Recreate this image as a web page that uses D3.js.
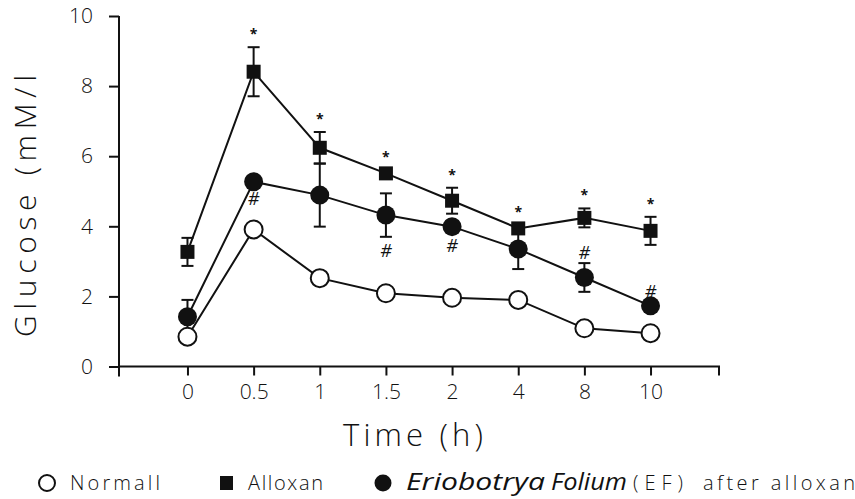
<!DOCTYPE html>
<html>
<head>
<meta charset="utf-8">
<script src="https://cdn.jsdelivr.net/npm/d3@7/dist/d3.min.js"></script>
<style>
  body { margin: 0; background: #fff; }
  svg { display: block; }
  text { font-family: "Open Sans", "Liberation Sans", sans-serif; fill: #111; }
</style>
</head>
<body>
<svg id="chart" width="855" height="499"></svg>
<script>
// time points (categorical axis)
const times = ["0", "0.5", "1", "1.5", "2", "4", "8", "10"]
const yTicks = [0, 2, 4, 6, 8, 10]

// glucose mM/l
const normal = [0.85, 3.91, 2.52, 2.09, 1.96, 1.90, 1.09, 0.95]
const normalErr = [0.15, 0.1, 0.1, 0.1, 0.1, 0.1, 0.1, 0.1]
const alloxan = [3.27, 8.41, 6.24, 5.51, 4.73, 3.94, 4.24, 3.87]
const alloxanErr = [0.4, 0.7, 0.45, 0.1, 0.37, 0.1, 0.27, 0.4]
const ef = [1.42, 5.27, 4.89, 4.32, 3.99, 3.35, 2.54, 1.73]
const efErr = [0.48, 0.1, 0.9, 0.62, 0.15, 0.57, 0.41, 0.1]

// significance marks: * alloxan vs normal, # EF vs alloxan (b = below, a = above)
const starMarks = ["", "*", "*", "*", "*", "*", "*", "*"]
const hashMarks = ["", "b", "", "b", "b", "", "a", "a"]

const svg = d3.select("#chart")
const pLeft = 119, pRight = 719, pTop = 16, pBottom = 366.5

const x = d3.scalePoint().domain(times).range([pLeft, pRight]).padding(1.035)
const y = d3.scaleLinear().domain([0, 10]).range([pBottom, pTop])

// axes
const xAxis = d3.axisBottom(x).tickSize(9).tickSizeOuter(0)
const xg = svg.append("g").attr("transform", `translate(0,${pBottom})`).call(xAxis)
xg.select(".domain").remove()
svg.append("path")
  .attr("d", `M${pLeft},${pBottom}H${pRight}v9`)
  .attr("fill", "none").attr("stroke", "#111").attr("stroke-width", 2)
xg.selectAll(".tick line").attr("stroke", "#111").attr("stroke-width", 2)
xg.selectAll(".tick text").attr("y", 18).attr("font-size", 21).attr("font-weight", 300).attr("font-family", null)

const yAxis = d3.axisLeft(y).tickValues(yTicks).tickSize(10).tickPadding(16)
const yg = svg.append("g").attr("transform", `translate(${pLeft},0)`).call(yAxis)
yg.select(".domain").remove()
svg.append("path")
  .attr("d", `M${pLeft},${pTop}V${pBottom + 10}`)
  .attr("fill", "none").attr("stroke", "#111").attr("stroke-width", 2)
yg.selectAll(".tick line").attr("stroke", "#111").attr("stroke-width", 2)
yg.selectAll(".tick text").attr("font-size", 21).attr("font-weight", 300).attr("font-family", null)

// axis titles
svg.append("text")
  .attr("x", 413).attr("y", 446)
  .attr("text-anchor", "middle")
  .attr("font-size", 31).attr("font-weight", 300)
  .attr("textLength", 140).attr("lengthAdjust", "spacing")
  .text("Time (h)")
svg.append("text")
  .attr("transform", "translate(36,206) rotate(-90)")
  .attr("text-anchor", "middle")
  .attr("font-size", 30).attr("font-weight", 300)
  .attr("textLength", 262).attr("lengthAdjust", "spacing")
  .text("Glucose (mM/l")

const line = d3.line().x((d, i) => x(times[i])).y(d => y(d))

function errorBars(vals, errs) {
  const g = svg.append("g").attr("stroke", "#111").attr("stroke-width", 2)
  vals.forEach((v, i) => {
    const cx = x(times[i])
    g.append("line").attr("x1", cx).attr("x2", cx).attr("y1", y(v - errs[i])).attr("y2", y(v + errs[i]))
    g.append("line").attr("x1", cx - 6).attr("x2", cx + 6).attr("y1", y(v + errs[i])).attr("y2", y(v + errs[i]))
    g.append("line").attr("x1", cx - 6).attr("x2", cx + 6).attr("y1", y(v - errs[i])).attr("y2", y(v - errs[i]))
  })
}

errorBars(normal, normalErr)
errorBars(alloxan, alloxanErr)
errorBars(ef, efErr)

;[normal, alloxan, ef].forEach(s => {
  svg.append("path").datum(s).attr("d", line)
    .attr("fill", "none").attr("stroke", "#111").attr("stroke-width", 2)
})

// markers
svg.append("g").selectAll("circle").data(normal).enter().append("circle")
  .attr("cx", (d, i) => x(times[i])).attr("cy", d => y(d)).attr("r", 9)
  .attr("fill", "#fff").attr("stroke", "#111").attr("stroke-width", 2)
svg.append("g").selectAll("rect").data(alloxan).enter().append("rect")
  .attr("x", (d, i) => x(times[i]) - 7).attr("y", d => y(d) - 7)
  .attr("width", 14).attr("height", 14).attr("fill", "#111")
svg.append("g").selectAll("circle").data(ef).enter().append("circle")
  .attr("cx", (d, i) => x(times[i])).attr("cy", d => y(d)).attr("r", 9.5)
  .attr("fill", "#111")

// significance symbols
svg.append("g").selectAll("text").data(alloxan).enter().append("text")
  .attr("x", (d, i) => x(times[i])).attr("y", (d, i) => y(d + alloxanErr[i]) - 8)
  .attr("text-anchor", "middle").attr("font-size", 14).attr("font-weight", 700)
  .text((d, i) => starMarks[i])
svg.append("g").selectAll("text").data(ef).enter().append("text")
  .attr("x", (d, i) => x(times[i]))
  .attr("y", (d, i) => hashMarks[i] === "b" ? y(d - efErr[i]) + 20 : y(d + efErr[i]) - 4)
  .attr("text-anchor", "middle").attr("font-size", 18).attr("font-style", "italic")
  .text((d, i) => hashMarks[i] ? "#" : "")

// legend
const lg = svg.append("g").attr("transform", "translate(0,483)")
lg.append("circle").attr("cx", 47).attr("cy", 0).attr("r", 8)
  .attr("fill", "#fff").attr("stroke", "#111").attr("stroke-width", 2)
lg.append("text").attr("x", 70).attr("y", 7).attr("font-size", 20).attr("font-weight", 300)
  .attr("textLength", 90).attr("lengthAdjust", "spacing").text("Normall")
lg.append("rect").attr("x", 220).attr("y", -7).attr("width", 13).attr("height", 14).attr("fill", "#111")
lg.append("text").attr("x", 248).attr("y", 7).attr("font-size", 20).attr("font-weight", 300)
  .attr("textLength", 75).attr("lengthAdjust", "spacing").text("Alloxan")
lg.append("circle").attr("cx", 383).attr("cy", 0).attr("r", 8.5).attr("fill", "#111")
lg.append("text").attr("x", 406).attr("y", 7).attr("font-size", 23)
  .attr("font-family", "Liberation Serif, serif").attr("font-style", "italic")
  .attr("textLength", 139).attr("lengthAdjust", "spacingAndGlyphs").text("Eriobotrya")
lg.append("text").attr("x", 551).attr("y", 7).attr("font-size", 23)
  .attr("font-family", "Liberation Serif, serif").attr("font-style", "italic")
  .attr("textLength", 76).attr("lengthAdjust", "spacingAndGlyphs").text("Folium")
lg.append("text").attr("x", 633).attr("y", 7).attr("font-size", 20).attr("font-weight", 300)
  .attr("textLength", 50).attr("lengthAdjust", "spacing").text("(EF)")
lg.append("text").attr("x", 703).attr("y", 7).attr("font-size", 20).attr("font-weight", 300)
  .attr("textLength", 152).attr("lengthAdjust", "spacing").text("after alloxan")
</script>
</body>
</html>
